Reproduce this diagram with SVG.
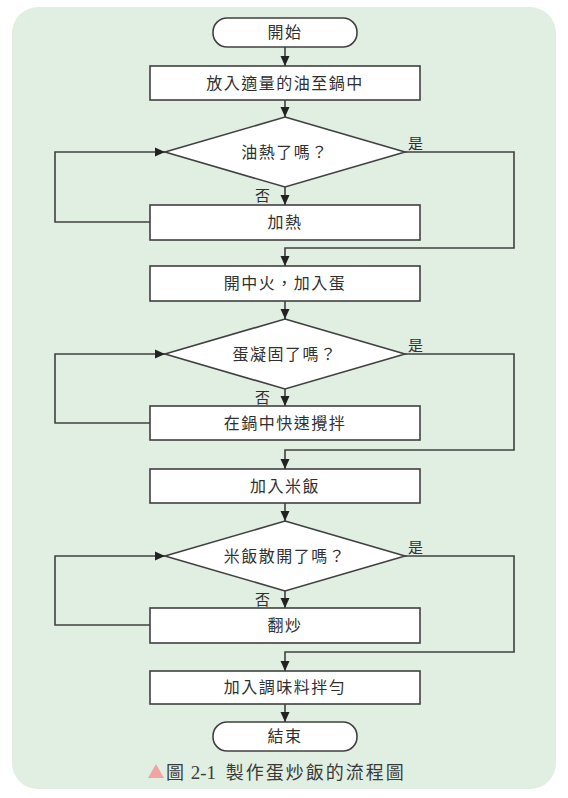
<svg xmlns="http://www.w3.org/2000/svg" width="568" height="798" viewBox="0 0 568 798">
<style>
.bg{fill:#e0efe2}
.shape{fill:#ffffff;stroke:#404040;stroke-width:1.6}
.t{font-family:"Noto Sans CJK TC","Noto Sans CJK SC",sans-serif;font-size:16px;fill:#303030;text-anchor:middle;letter-spacing:1.5px}
.lbl{font-family:"Noto Sans CJK TC","Noto Sans CJK SC",sans-serif;font-size:15px;fill:#303030}
.conn{fill:none;stroke:#404040;stroke-width:1.6}
.cap{font-family:"Noto Sans CJK TC","Noto Sans CJK SC",sans-serif;font-size:18px;fill:#3a3a3a;letter-spacing:2px}
</style>
<defs>
<marker id="ah" markerUnits="userSpaceOnUse" markerWidth="10" markerHeight="10" viewBox="0 0 10 10" refX="10" refY="5" orient="auto">
<path d="M0,0.5 L10,5 L0,9.5 Z" fill="#222222"/>
</marker>
</defs>
<rect class="bg" x="12" y="7" width="544" height="782" rx="26" ry="26"/>

<g id="start">
<rect class="shape" x="213" y="18" width="144" height="29" rx="14" ry="14"/>
<text class="t" x="285" y="38">開始</text>
</g>
<g id="step1">
<rect class="shape" x="150" y="66" width="270" height="34"/>
<text class="t" x="285" y="89">放入適量的油至鍋中</text>
</g>
<g id="dec1">
<polygon class="shape" points="285,117 405,152 285,187 165,152"/>
<text class="t" x="285" y="158">油熱了嗎？</text>
</g>
<g id="heat">
<rect class="shape" x="150" y="205" width="270" height="35"/>
<text class="t" x="285" y="228">加熱</text>
</g>
<g id="step2">
<rect class="shape" x="150" y="266" width="270" height="35"/>
<text class="t" x="285" y="289">開中火，加入蛋</text>
</g>
<g id="dec2">
<polygon class="shape" points="285,319 405,354 285,389 165,354"/>
<text class="t" x="285" y="360">蛋凝固了嗎？</text>
</g>
<g id="stir">
<rect class="shape" x="150" y="406" width="270" height="34"/>
<text class="t" x="285" y="429">在鍋中快速攪拌</text>
</g>
<g id="step3">
<rect class="shape" x="150" y="469" width="270" height="34"/>
<text class="t" x="285" y="492">加入米飯</text>
</g>
<g id="dec3">
<polygon class="shape" points="285,521 405,556 285,591 165,556"/>
<text class="t" x="285" y="562">米飯散開了嗎？</text>
</g>
<g id="fry">
<rect class="shape" x="150" y="608" width="270" height="35"/>
<text class="t" x="285" y="631">翻炒</text>
</g>
<g id="step4">
<rect class="shape" x="150" y="671" width="270" height="33"/>
<text class="t" x="285" y="693">加入調味料拌勻</text>
</g>
<g id="end">
<rect class="shape" x="213" y="722" width="144" height="29" rx="14" ry="14"/>
<text class="t" x="285" y="742">結束</text>
</g>

<g id="connectors">
<line class="conn" x1="285" y1="47" x2="285" y2="66" marker-end="url(#ah)"/>
<line class="conn" x1="285" y1="100" x2="285" y2="117" marker-end="url(#ah)"/>
<line class="conn" x1="285" y1="187" x2="285" y2="205" marker-end="url(#ah)"/>
<polyline class="conn" points="150,222 55,222 55,152 165,152" marker-end="url(#ah)"/>
<polyline class="conn" points="405,152 514,152 514,248 285,248 285,266" marker-end="url(#ah)"/>
<line class="conn" x1="285" y1="301" x2="285" y2="319" marker-end="url(#ah)"/>
<line class="conn" x1="285" y1="389" x2="285" y2="406" marker-end="url(#ah)"/>
<polyline class="conn" points="150,423 55,423 55,354 165,354" marker-end="url(#ah)"/>
<polyline class="conn" points="405,354 514,354 514,450 285,450 285,469" marker-end="url(#ah)"/>
<line class="conn" x1="285" y1="503" x2="285" y2="521" marker-end="url(#ah)"/>
<line class="conn" x1="285" y1="591" x2="285" y2="608" marker-end="url(#ah)"/>
<polyline class="conn" points="150,625 55,625 55,556 165,556" marker-end="url(#ah)"/>
<polyline class="conn" points="405,556 514,556 514,652 285,652 285,671" marker-end="url(#ah)"/>
<line class="conn" x1="285" y1="704" x2="285" y2="722" marker-end="url(#ah)"/>
<text class="lbl" x="408" y="149">是</text>
<text class="lbl" x="255" y="201">否</text>
<text class="lbl" x="408" y="351">是</text>
<text class="lbl" x="255" y="403">否</text>
<text class="lbl" x="408" y="553">是</text>
<text class="lbl" x="255" y="605">否</text>
</g>

<g id="caption">
<polygon points="148,778 156,764 164,778" fill="#f2a3a3"/>
<text class="cap" x="166" y="779">圖<tspan font-family="Liberation Serif, serif" font-size="19" letter-spacing="0"> 2-1 </tspan><tspan dx="5">製作蛋炒飯的流程圖</tspan></text>
</g>
</svg>
